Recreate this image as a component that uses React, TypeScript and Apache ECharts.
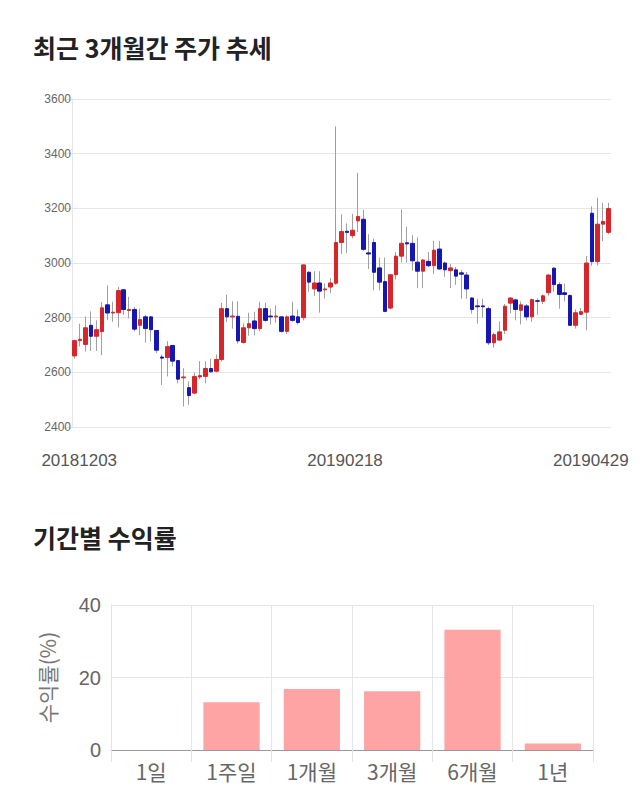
import React, { useEffect, useRef } from "react";
import * as echarts from "echarts";

const dates: string[] = [
  "20181203","20181204","20181205","20181206","20181207","20181210","20181211","20181212","20181213","20181214",
  "20181217","20181218","20181219","20181220","20181221","20181224","20181226","20181227","20181228",
  "20190102","20190103","20190104","20190107","20190108","20190109","20190110","20190111","20190114","20190115",
  "20190116","20190117","20190118","20190121","20190122","20190123","20190124","20190125","20190128","20190129",
  "20190130","20190131","20190201","20190207","20190208","20190211","20190212","20190213","20190214","20190215",
  "20190218","20190219","20190220","20190221","20190222","20190225","20190226","20190227","20190228",
  "20190304","20190305","20190306","20190307","20190308","20190311","20190312","20190313","20190314","20190315",
  "20190318","20190319","20190320","20190321","20190322","20190325","20190326","20190327","20190328","20190329",
  "20190401","20190402","20190403","20190404","20190405","20190408","20190409","20190410","20190411","20190412",
  "20190415","20190416","20190417","20190418","20190419","20190422","20190423","20190424","20190425","20190426",
  "20190429",
];

const openPrices: number[] = [
  2660,2716,2702,2772,2732,2749,2847,2817,2818,2902,
  2826,2830,2772,2803,2803,2753,2656,2654,2698,2643,
  2580,2544,2524,2583,2585,2614,2604,2647,2833,2803,
  2805,2709,2763,2788,2760,2833,2806,2803,2803,2750,
  2806,2803,2800,2966,2905,2927,2902,2912,2926,3075,
  3116,3100,3154,3160,3037,3075,2982,2932,2835,2957,
  3025,3074,3072,3003,2970,3006,2990,3051,3000,2972,
  2975,2964,2956,2872,2843,2843,2833,2708,2718,2754,
  2853,2865,2827,2843,2803,2862,2860,2891,2981,2921,
  2891,2881,2772,2812,2820,3182,3005,3142,3112,
];
const closePrices: number[] = [
  2716,2721,2763,2732,2756,2836,2817,2820,2899,2830,
  2830,2758,2793,2760,2756,2681,2652,2694,2641,2575,
  2583,2515,2585,2588,2614,2602,2647,2833,2803,2806,
  2715,2763,2778,2760,2833,2790,2803,2806,2750,2803,
  2790,2782,2993,2930,2927,2897,2905,2927,3075,3115,
  3112,3120,3170,3050,3033,2966,2930,2823,2957,3025,
  3072,3070,3008,2970,3011,2990,3047,2978,2975,2982,
  2952,2959,2905,2830,2840,2840,2708,2738,2748,2842,
  2872,2830,2847,2803,2866,2860,2880,2956,2921,2885,
  2885,2772,2818,2822,3000,3005,3142,3152,3199,
];
const lowPrices: number[] = [
  2650,2695,2676,2678,2678,2663,2790,2785,2764,2810,
  2797,2750,2736,2709,2713,2670,2554,2585,2622,2560,
  2475,2481,2520,2575,2560,2598,2600,2640,2784,2760,
  2705,2705,2734,2735,2750,2785,2775,2782,2745,2740,
  2785,2775,2790,2895,2880,2818,2870,2890,2920,3033,
  3037,3090,3113,3045,2978,2900,2900,2820,2830,2940,
  3002,3002,2972,2908,2908,2985,2960,2975,2949,2908,
  2920,2869,2869,2815,2778,2800,2700,2690,2715,2740,
  2815,2790,2775,2790,2785,2810,2850,2880,2895,2833,
  2860,2770,2760,2810,2754,2990,2990,3080,3105,
];
const highPrices: number[] = [
  2720,2778,2804,2823,2790,2857,2918,2858,2913,2905,
  2876,2840,2833,2810,2806,2755,2665,2714,2700,2645,
  2615,2567,2600,2641,2641,2650,2665,2854,2884,2860,
  2860,2780,2818,2822,2858,2855,2833,2845,2805,2808,
  2858,2830,2995,2970,2970,2970,2925,2945,3500,3178,
  3145,3180,3330,3195,3105,3090,3020,3020,2960,3040,
  3196,3133,3102,3094,3015,3040,3081,3081,3005,2996,
  2985,2975,2967,2875,2869,2869,2840,2745,2786,2850,
  2875,2870,2860,2850,2870,2870,2885,2960,2985,2930,
  2925,2885,2830,2835,3026,3207,3239,3220,3220,
];

const priceTicks: number[] = [2400, 2600, 2800, 3000, 3200, 3400, 3600];

const periods: string[] = ["1일", "1주일", "1개월", "3개월", "6개월", "1년"];
const returns: number[] = [0, 13.2, 16.8, 16.2, 33.2, 1.8];
const returnTicks: number[] = [0, 20, 40];

const RED = "#d7262b";
const BLUE = "#1616b2";
const WICK = "#a0a0a0";
const LATIN = "'Liberation Sans', Arial, 'Noto Sans CJK KR', sans-serif";
const KR = "'Noto Sans CJK KR', 'Liberation Sans', sans-serif";

export default function App() {
  const ref = useRef<HTMLDivElement>(null);
  useEffect(() => {
    document.body.style.margin = "0";
    if (!ref.current) return;
    const chart = echarts.init(ref.current, null, { renderer: "svg" });

    const wickData = dates.map((_, i) => [openPrices[i], closePrices[i], lowPrices[i], highPrices[i]]);
    const bodyData = dates.map((_, i) => [
      openPrices[i],
      closePrices[i],
      Math.min(openPrices[i], closePrices[i]),
      Math.max(openPrices[i], closePrices[i]),
    ]);
    const shownIdx = [0, 49, dates.length - 1];

    chart.setOption({
      animation: false,
      backgroundColor: "#ffffff",
      title: [
        {
          text: "최근 3개월간 주가 추세",
          left: 33,
          top: 34,
          padding: 0,
          textStyle: { fontFamily: KR, fontSize: 25, fontWeight: "bold", color: "#222" },
        },
        {
          text: "기간별 수익률",
          left: 33,
          top: 524,
          padding: 0,
          textStyle: { fontFamily: KR, fontSize: 25, fontWeight: "bold", color: "#222" },
        },
      ],
      grid: [
        { left: 72, right: 29, top: 99, height: 328 },
        { left: 111, right: 47, top: 605, height: 145 },
      ],
      xAxis: [
        {
          gridIndex: 0,
          type: "category",
          data: dates,
          boundaryGap: true,
          axisLine: { show: false },
          axisTick: { show: false },
          splitLine: { show: false },
          axisLabel: {
            interval: (idx: number) => shownIdx.indexOf(idx) >= 0,
            margin: 25,
            formatter: (v: string, idx: number) =>
              idx === 0 ? "{a|" + v + "}" : idx === 49 ? "{b|" + v + "}" : "{c|" + v + "}",
            rich: {
              a: { fontSize: 17, color: "#555", fontFamily: LATIN, padding: [0, 0, 0, 9] },
              b: { fontSize: 17, color: "#555", fontFamily: LATIN, padding: [0, 0, 0, 7] },
              c: { fontSize: 17, color: "#555", fontFamily: LATIN, padding: [0, 35, 0, 0] },
            },
          },
        },
        {
          gridIndex: 1,
          type: "category",
          data: periods,
          boundaryGap: true,
          axisLine: { show: true, lineStyle: { color: "#999" } },
          axisTick: { show: true, length: 12, lineStyle: { color: "#e2e2e2" } },
          splitLine: { show: true, lineStyle: { color: "#e6e6e6" } },
          axisLabel: { fontSize: 21, color: "#666", fontFamily: KR, margin: 10 },
        },
      ],
      yAxis: [
        {
          gridIndex: 0,
          type: "value",
          min: priceTicks[0],
          max: priceTicks[priceTicks.length - 1],
          interval: 200,
          axisLine: { show: true, lineStyle: { color: "#e6e6e6" } },
          axisTick: { show: true, length: 9, lineStyle: { color: "#e6e6e6" } },
          splitLine: { show: true, lineStyle: { color: "#e6e6e6" } },
          axisLabel: {
            fontSize: 12,
            color: "#666",
            fontFamily: LATIN,
            margin: 1,
            formatter: (v: number) => String(v),
          },
        },
        {
          gridIndex: 1,
          type: "value",
          min: returnTicks[0],
          max: returnTicks[returnTicks.length - 1],
          interval: 20,
          name: "수익률(%)",
          nameLocation: "middle",
          nameRotate: 90,
          nameGap: 54,
          nameTextStyle: { fontSize: 21, color: "#777", fontFamily: KR },
          axisLine: { show: true, lineStyle: { color: "#e2e2e2" } },
          axisTick: { show: false },
          splitLine: { show: true, lineStyle: { color: "#e6e6e6" } },
          axisLabel: { fontSize: 20, color: "#666", fontFamily: LATIN, margin: 10 },
        },
      ],
      series: [
        {
          type: "candlestick",
          xAxisIndex: 0,
          yAxisIndex: 0,
          data: wickData,
          barWidth: 1,
          itemStyle: {
            color: WICK,
            color0: WICK,
            borderColor: WICK,
            borderColor0: WICK,
            borderColorDoji: WICK,
            borderWidth: 1,
          },
          silent: true,
        },
        {
          type: "candlestick",
          xAxisIndex: 0,
          yAxisIndex: 0,
          data: bodyData,
          barWidth: 4,
          itemStyle: {
            color: RED,
            color0: BLUE,
            borderColor: RED,
            borderColor0: BLUE,
            borderColorDoji: RED,
            borderWidth: 1,
          },
        },
        {
          type: "bar",
          xAxisIndex: 1,
          yAxisIndex: 1,
          data: returns,
          barWidth: "70%",
          itemStyle: { color: "#fea4a4" },
        },
      ],
    });
    return () => chart.dispose();
  }, []);
  return <div ref={ref} style={{ width: 640, height: 810 }} />;
}
